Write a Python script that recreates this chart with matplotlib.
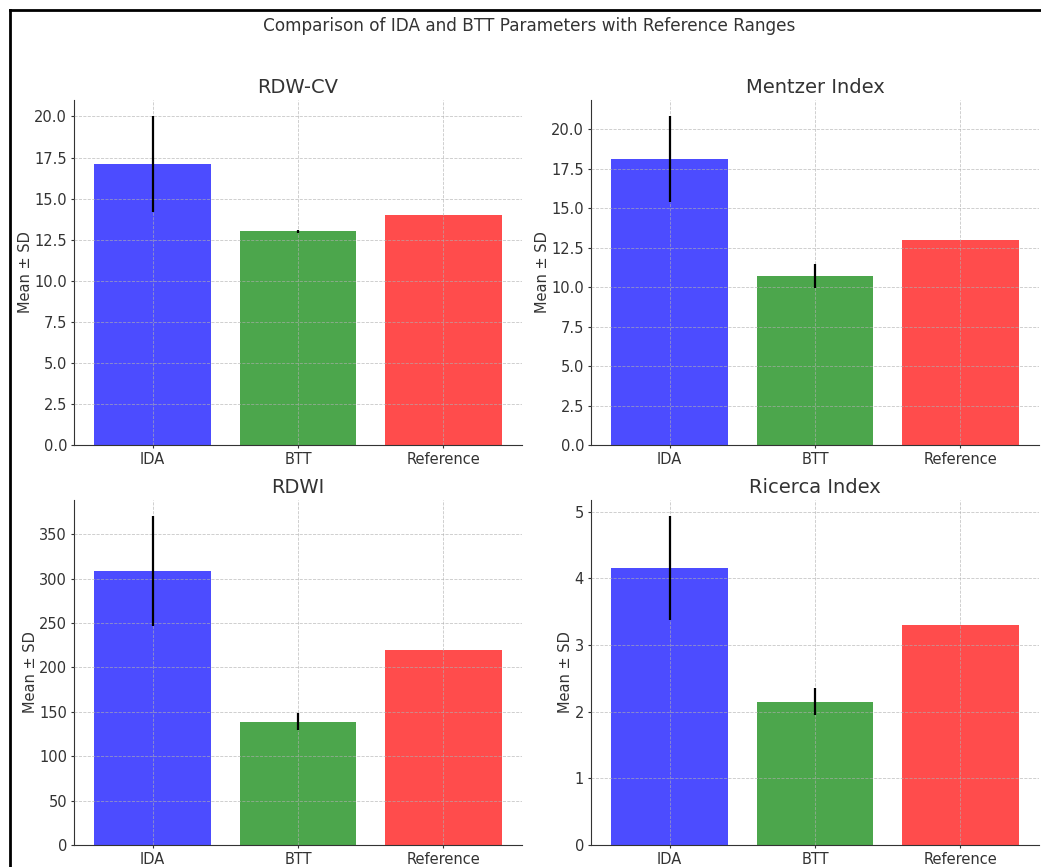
import matplotlib
matplotlib.use("Agg")
import matplotlib.pyplot as plt
from matplotlib.lines import Line2D

groups = ["IDA", "BTT", "Reference"]
titles = ["RDW-CV", "Mentzer Index", "RDWI", "Ricerca Index"]
means = {
    "RDW-CV": [17.1, 13.0, 14.0],
    "Mentzer Index": [18.1, 10.7, 13.0],
    "RDWI": [308.5, 139.0, 220.0],
    "Ricerca Index": [4.15, 2.15, 3.3],
}
sds = {
    "RDW-CV": [2.9, 0.1, 0.0],
    "Mentzer Index": [2.7, 0.75, 0.0],
    "RDWI": [61.5, 10.0, 0.0],
    "Ricerca Index": [0.78, 0.2, 0.0],
}
colors = ["blue", "green", "red"]

grey = "#333333"
plt.rcParams.update({
    "text.color": grey,
    "axes.labelcolor": grey,
    "xtick.color": grey,
    "ytick.color": grey,
    "axes.edgecolor": grey,
    "font.size": 10,
})

W, H = 1041, 867
fig = plt.figure(figsize=(W / 100, H / 100), dpi=100)

def frac(left, right, top, bottom):
    return [left / W, (H - bottom) / H, (right - left) / W, (bottom - top) / H]

boxes = [
    frac(74, 522, 100, 445),
    frac(591, 1039, 100, 445),
    frac(74, 522, 500, 845),
    frac(591, 1039, 500, 845),
]

for title, box in zip(titles, boxes):
    ax = fig.add_axes(box)
    m = means[title]
    s = sds[title]
    ax.bar(groups, m, yerr=s, color=colors, alpha=0.7,
           error_kw=dict(ecolor="black", elinewidth=1.6, capsize=0, zorder=3))
    ax.set_title(title, fontsize=14, pad=5)
    ax.set_ylabel("Mean ± SD", fontsize=10.5, labelpad=1)
    ax.grid(True, linestyle="--", linewidth=0.6, alpha=0.7, zorder=2)
    ax.set_axisbelow(False)
    ax.spines["top"].set_visible(False)
    ax.spines["right"].set_visible(False)
    ax.tick_params(labelsize=10.5, length=2.5, pad=2.5)

fig.text(529 / W, 1 - 26 / H, "Comparison of IDA and BTT Parameters with Reference Ranges",
         ha="center", va="center", fontsize=12.2)

# figure frame (cropped border)
x0 = 9.5 / W
y0 = 1 - 9.5 / H
fig.add_artist(Line2D([x0, x0], [-0.1, y0], transform=fig.transFigure, color="black", lw=2))
fig.add_artist(Line2D([x0, 1.1], [y0, y0], transform=fig.transFigure, color="black", lw=2))

fig.savefig("out.png", dpi=100)
